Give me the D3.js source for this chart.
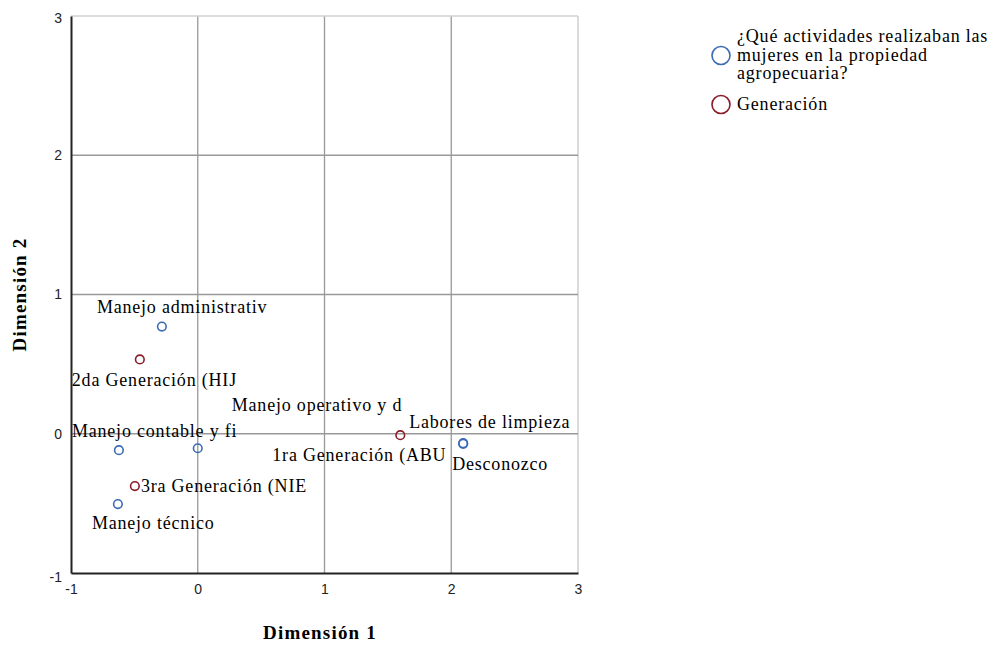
<!DOCTYPE html>
<html><head><meta charset="utf-8">
<script src="https://cdn.jsdelivr.net/npm/d3@7"></script>
<style>body{margin:0;background:#fff;} svg{display:block;}</style>
</head><body>
<svg id="c" width="997" height="646"></svg>
<script>
// Data
const actividadLabels = ["Manejo administrativ","Manejo operativo y d","Manejo contable y fi","Labores de limpieza","Desconozco","Manejo técnico"];
const actividadDim1 = [-0.283, 0.0, -0.622, 2.094, 2.094, -0.63];
const actividadDim2 = [0.77, -0.104, -0.118, -0.068, -0.072, -0.505];
const generacionLabels = ["2da Generación (HIJ","1ra Generación (ABU","3ra Generación (NIE"];
const generacionDim1 = [-0.457, 1.598, -0.496];
const generacionDim2 = [0.534, -0.01, -0.376];
const xTicks = [-1,0,1,2,3];
const yTicks = [-1,0,1,2,3];
const legendLabels = [["¿Qué actividades realizaban las","mujeres en la propiedad","agropecuaria?"],["Generación"]];

// label placement (layout)
const labelOffset = {
 "Manejo administrativ":[-65,-14],
 "Manejo operativo y d":[34,-37],
 "Manejo contable y fi":[-47,-13],
 "Labores de limpieza":[-54,-15],
 "Desconozco":[-11,26],
 "Manejo técnico":[-26,25],
 "2da Generación (HIJ":[-68,27],
 "1ra Generación (ABU":[-128,26],
 "3ra Generación (NIE":[6,6]
};

const colors = ["#3d6bb3","#8a1c28"];
const svg = d3.select("#c");
const x = d3.scaleLinear().domain([-1,3]).range([71,578]);
const y = d3.scaleLinear().domain([-1,3]).range([573,16]);
const serif = "'Liberation Serif','Times New Roman',serif";
const sans = "'Liberation Sans',Arial,sans-serif";
const labelSize = 18, labelSpacing = 0.8;

// gridlines
svg.append("g").selectAll("line.v").data(xTicks.filter(d=>d>-1)).join("line")
 .attr("x1",d=>x(d)).attr("x2",d=>x(d)).attr("y1",y(3)).attr("y2",y(-1))
 .attr("stroke",d=>d===3?"#c8c8c8":"#999").attr("stroke-width",1.3);
svg.append("g").selectAll("line.h").data(yTicks.filter(d=>d>-1)).join("line")
 .attr("x1",x(-1)).attr("x2",x(3)).attr("y1",d=>y(d)).attr("y2",d=>y(d))
 .attr("stroke",d=>d===3?"#d0d0d0":"#999").attr("stroke-width",1.3);

// axes
const xAxis = svg.append("g").attr("transform",`translate(0,${y(-1)})`)
 .call(d3.axisBottom(x).tickValues(xTicks).tickSize(0).tickPadding(11).tickFormat(d=>String(d)));
const yAxis = svg.append("g").attr("transform",`translate(${x(-1)},0)`)
 .call(d3.axisLeft(y).tickValues(yTicks).tickSize(0).tickPadding(9).tickFormat(d=>String(d)));
[xAxis,yAxis].forEach(a=>{
 a.select(".domain").attr("stroke","#222").attr("stroke-width",2);
 a.selectAll("text").attr("font-family",sans).attr("font-size",14).attr("fill","#222");
});
yAxis.selectAll(".tick").filter(d=>d===-1).select("text").attr("dy","0.6em");
yAxis.selectAll(".tick").filter(d=>d===3).select("text").attr("dy","0.45em");

// axis titles
svg.append("text").attr("x",320).attr("y",639).attr("text-anchor","middle")
 .attr("font-family",serif).attr("font-weight","bold").attr("font-size",19).attr("letter-spacing",1.2).text("Dimensión 1");
svg.append("text").attr("transform",`translate(26,${y(1)}) rotate(-90)`).attr("text-anchor","middle")
 .attr("font-family",serif).attr("font-weight","bold").attr("font-size",19).attr("letter-spacing",1.2).text("Dimensión 2");

// points
const groups = [
 actividadLabels.map((l,i)=>({label:l,d1:actividadDim1[i],d2:actividadDim2[i],g:0})),
 generacionLabels.map((l,i)=>({label:l,d1:generacionDim1[i],d2:generacionDim2[i],g:1}))
];
const all = groups.flat();
svg.append("g").selectAll("circle").data(all).join("circle")
 .attr("cx",d=>x(d.d1)).attr("cy",d=>y(d.d2)).attr("r",4.3)
 .attr("fill","none").attr("stroke",d=>colors[d.g]).attr("stroke-width",1.6);
svg.append("g").selectAll("text").data(all).join("text")
 .attr("x",d=>x(d.d1)+labelOffset[d.label][0]).attr("y",d=>y(d.d2)+labelOffset[d.label][1])
 .attr("font-family",serif).attr("font-size",labelSize).attr("letter-spacing",labelSpacing)
 .attr("fill","#000").text(d=>d.label);

// legend
const lg = svg.append("g");
let ly = 37;
legendLabels.forEach((lines,i)=>{
 const cy = ly + (lines.length-1)*18.5/2;
 lg.append("circle").attr("cx",721).attr("cy",cy).attr("r",9).attr("fill","none")
  .attr("stroke",colors[i]).attr("stroke-width",1.6);
 lines.forEach((t,j)=>{
  lg.append("text").attr("x",737).attr("y",ly+j*18.5+5).attr("font-family",serif)
   .attr("font-size",labelSize).attr("letter-spacing",labelSpacing).text(t);
 });
 ly += lines.length*18.5 + 12;
});
</script>
</body></html>
